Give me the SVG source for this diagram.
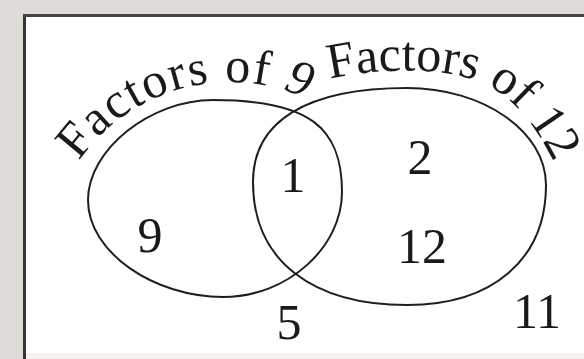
<svg xmlns="http://www.w3.org/2000/svg" width="584" height="359" viewBox="0 0 584 359">
  <style>
    .set { fill: none; stroke: #1e1e1e; stroke-width: 2; }
    text { font-family: 'Liberation Serif', 'Times New Roman', Times, serif; fill: #1a1a1a; font-size: 50px; }
    .num { text-anchor: middle; }
  </style>
  <defs>
    <path id="arc9" d="M 57.1,203.1 A 184,184 0 0 1 348.3,125.1"/>
    <path id="arc12" d="M 325,80 C 375,68 440,66 480,82 C 515,96 540,130 565,185 L 580,220"/>
  </defs>
  <g id="frame">
    <rect x="0" y="0" width="584" height="359" fill="#dfdbd7"/>
    <rect x="24" y="15" width="560" height="338" fill="#ffffff"/>
    <rect x="24" y="353" width="560" height="6" fill="#f6f1ef"/>
    <line x1="24.5" y1="14" x2="24.5" y2="359" stroke="#333" stroke-width="3"/>
    <line x1="23" y1="15.5" x2="584" y2="15.5" stroke="#444" stroke-width="3"/>
  </g>
  <g id="set-factors-of-9">
    <path class="set" d="M 213,100 C 309.75,100 342,127.6 342,192 C 342,247 288,297 223,297 C 155,297 88,253 88,200 C 88,150 150,100 213,100 Z"/>
    <text letter-spacing="1.5"><textPath href="#arc9" startOffset="176" text-anchor="middle">Factors of <tspan font-style="italic">9</tspan></textPath></text>
  </g>
  <g id="set-factors-of-12">
    <path class="set" d="M 407,88 C 483.5,88 546,131.6 546,185 C 546,259 493,305 407,305 C 314,305 253,262 253,182 C 253,121 307,88 407,88 Z"/>
    <text><textPath href="#arc12" startOffset="5">Factors of 12</textPath></text>
  </g>
  <g id="elements">
    <text class="num" x="150" y="252">9</text>
    <text class="num" x="293" y="192">1</text>
    <text class="num" x="420" y="174">2</text>
    <text class="num" x="422" y="263">12</text>
    <text class="num" x="289" y="339">5</text>
    <text class="num" x="537" y="328">11</text>
  </g>
</svg>
